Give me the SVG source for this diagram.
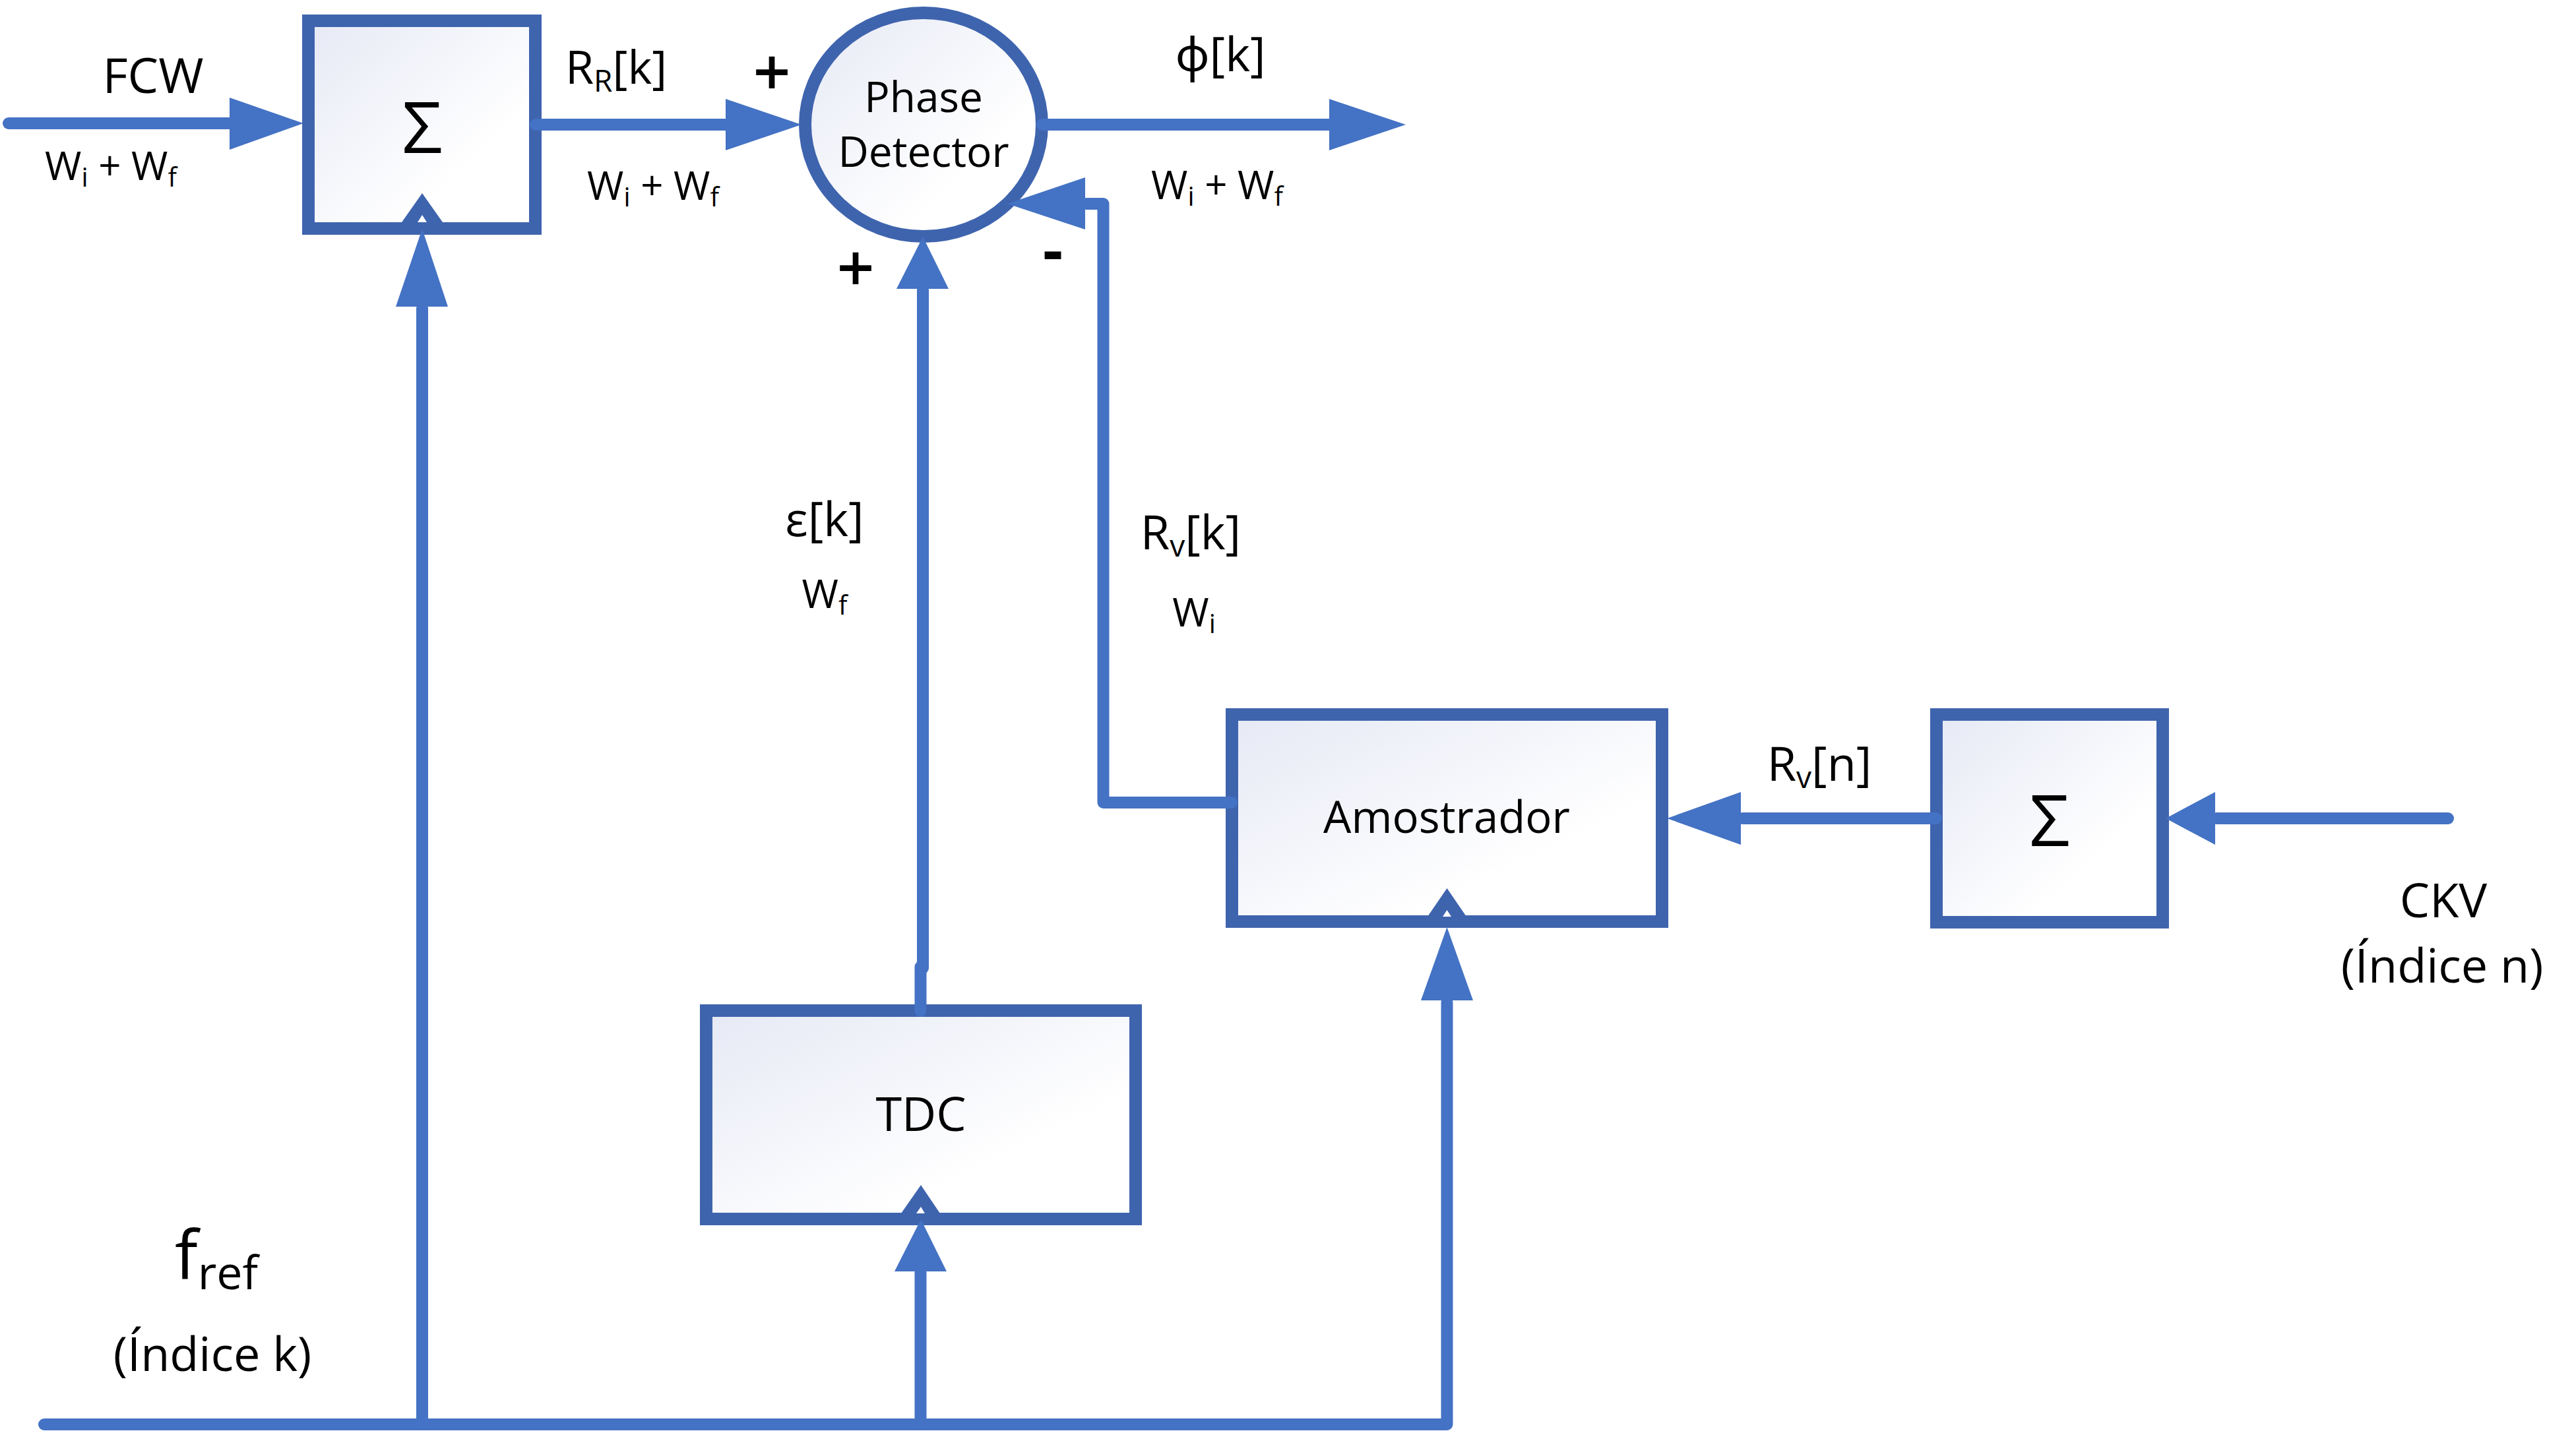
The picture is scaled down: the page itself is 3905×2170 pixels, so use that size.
<svg xmlns="http://www.w3.org/2000/svg" width="3905" height="2170" viewBox="0 0 3905 2170">
<style>
text{font-family:'Open Sans','Noto Sans','DejaVu Sans',sans-serif;fill:#000000;}
.box{fill:url(#fillGrad);stroke:#3F64AE;stroke-width:19;}
.ln{fill:none;stroke:#4472C4;stroke-width:18;stroke-linecap:round;stroke-linejoin:round;}
.ah{fill:#4472C4;stroke:none;}
.dk{fill:#3F64AE;stroke:none;}
.wh{fill:#FFFFFF;stroke:none;}
.lbl{font-size:72px;}
.w{font-size:60px;}
.sub{font-size:40px;}
.sub2{font-size:46px;}
.sign{font-size:100px;font-weight:600;}
</style>
<defs>
<linearGradient id="fillGrad" x1="0" y1="0" x2="1" y2="1">
<stop offset="0" stop-color="#E6E9F5"/>
<stop offset="0.7" stop-color="#FFFFFF"/>
<stop offset="1" stop-color="#FFFFFF"/>
</linearGradient>
</defs>
<rect x="0" y="0" width="3905" height="2170" fill="#FFFFFF"/>

<g id="sum1">
<rect class="box" x="467.5" y="31.5" width="344" height="315"/>
<text x="640" y="232" font-size="108" text-anchor="middle">Σ</text>
</g>
<g id="phase-detector">
<ellipse class="box" cx="1400" cy="189" rx="179.5" ry="169.5"/>
<text x="1400" y="170" font-size="64" text-anchor="middle">Phase</text>
<text x="1400" y="253" font-size="64" text-anchor="middle">Detector</text>
</g>
<g id="tdc">
<rect class="box" x="1070.5" y="1532.5" width="651" height="316"/>
<text class="lbl" x="1396" y="1715" text-anchor="middle">TDC</text>
</g>
<g id="amostrador">
<rect class="box" x="1867.5" y="1083.5" width="652" height="314"/>
<text x="2193" y="1263" font-size="67" text-anchor="middle">Amostrador</text>
</g>
<g id="sum2">
<rect class="box" x="2935.5" y="1083.5" width="343" height="315"/>
<text x="3107" y="1283" font-size="108" text-anchor="middle">Σ</text>
</g>

<g id="connectors">
<path class="ln" d="M13 187 L350 187"/>
<polygon class="ah" points="348,148 460,187 348,227"/>
<path class="ln" d="M812 189 L1102 189"/>
<polygon class="ah" points="1100,150 1215,189 1100,228"/>
<path class="ln" d="M1580 189 L2017 189"/>
<polygon class="ah" points="2015,150 2131,189 2015,228"/>
<path class="ln" d="M67 2160 L2193.5 2160 L2193.5 1520"/>
<path class="ln" d="M640 2160 L640 468"/>
<path class="ln" d="M1395.5 2160 L1395.5 1930"/>
<polygon class="dk" points="609,337 671,337 640,293"/>
<polygon class="wh" points="633,337 647,337 640,326"/>
<polygon class="ah" points="600,465 679,465 640,347"/>
<polygon class="dk" points="1366,1840 1425,1840 1396,1797"/>
<polygon class="wh" points="1389,1840 1402,1840 1396,1830"/>
<polygon class="ah" points="1356,1928 1435,1928 1396,1849"/>
<polygon class="dk" points="2164,1390 2223,1390 2193.5,1347"/>
<polygon class="wh" points="2187,1390 2200,1390 2193.5,1380"/>
<polygon class="ah" points="2154,1517 2233,1517 2193.5,1406"/>
<path class="ln" d="M1395.5 1533 L1395.5 1466"/>
<path class="ln" d="M1399 1468 L1399 440"/>
<polygon class="ah" points="1359,438 1438,438 1399,359"/>
<path class="ln" d="M1867 1217 L1672.5 1217 L1672.5 309 L1647 309"/>
<polygon class="ah" points="1645,269 1527,309 1645,348"/>
<path class="ln" d="M2935 1241 L2641 1241"/>
<polygon class="ah" points="2639,1201 2527,1241 2639,1281"/>
<path class="ln" d="M3711 1241 L3360 1241"/>
<polygon class="ah" points="3358,1201 3283,1241 3358,1281"/>
</g>

<g id="labels">
<text x="232" y="141" font-size="74" text-anchor="middle">FCW</text>
<text class="w" x="168" y="273" text-anchor="middle">W<tspan class="sub" dy="10">i</tspan><tspan dy="-10"> + W</tspan><tspan class="sub" dy="10">f</tspan></text>
<text x="934" y="127" font-size="70" text-anchor="middle">R<tspan class="sub2" dy="12">R</tspan><tspan dy="-12">[k]</tspan></text>
<text class="w" x="990" y="303" text-anchor="middle">W<tspan class="sub" dy="10">i</tspan><tspan dy="-10"> + W</tspan><tspan class="sub" dy="10">f</tspan></text>
<text class="sign" x="1170" y="145" text-anchor="middle">+</text>
<text class="sign" x="1297" y="442" text-anchor="middle">+</text>
<text x="1596" y="413" font-size="95" font-weight="bold" text-anchor="middle">-</text>
<text class="lbl" x="1850" y="108" text-anchor="middle">ϕ[k]</text>
<text class="w" x="1845" y="302" text-anchor="middle">W<tspan class="sub" dy="10">i</tspan><tspan dy="-10"> + W</tspan><tspan class="sub" dy="10">f</tspan></text>
<text class="lbl" x="1250" y="813" text-anchor="middle">ε[k]</text>
<text class="w" x="1250" y="922" text-anchor="middle">W<tspan class="sub" dy="10">f</tspan></text>
<text class="lbl" x="1805" y="833" text-anchor="middle">R<tspan class="sub2" dy="11">v</tspan><tspan dy="-11">[k]</tspan></text>
<text class="w" x="1810" y="950" text-anchor="middle">W<tspan class="sub" dy="10">i</tspan></text>
<text class="lbl" x="2758" y="1184" text-anchor="middle">R<tspan class="sub2" dy="11">v</tspan><tspan dy="-11">[n]</tspan></text>
<text class="lbl" x="3704" y="1391" text-anchor="middle">CKV</text>
<text class="lbl" x="3702" y="1490" text-anchor="middle">(Índice n)</text>
<text x="265" y="1939" font-size="103">f<tspan font-size="70" dy="16">ref</tspan></text>
<text class="lbl" x="322" y="2079" text-anchor="middle">(Índice k)</text>
</g>
</svg>
